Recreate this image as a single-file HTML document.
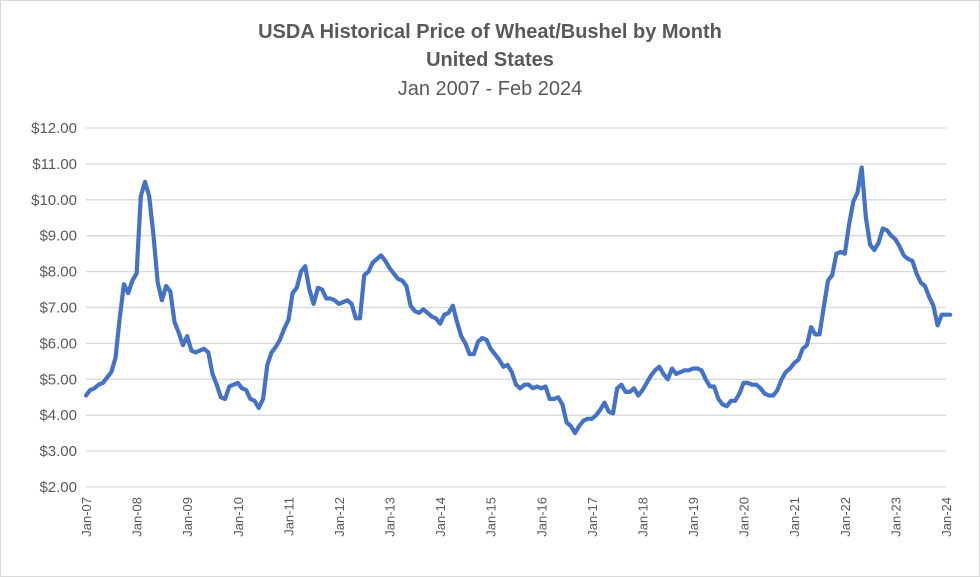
<!DOCTYPE html>
<html><head><meta charset="utf-8"><style>
body{margin:0;background:#fff;}
svg{display:block;font-family:"Liberation Sans",sans-serif;}
</style></head><body>
<svg id="chart" width="980" height="577">
<rect x="0.5" y="0.5" width="979" height="576" fill="#fff" stroke="#d9d9d9"/>
<text x="490" y="38" text-anchor="middle" font-size="20" font-weight="bold" fill="#595959">USDA Historical Price of Wheat/Bushel by Month</text>
<text x="490" y="66" text-anchor="middle" font-size="20" font-weight="bold" fill="#595959">United States</text>
<text x="490" y="95" text-anchor="middle" font-size="20" fill="#595959">Jan 2007 - Feb 2024</text>
<g id="grid"></g><g id="yl"></g><g id="xl"></g><g id="ser"></g>
</svg>
<script>
const yTicks=[2,3,4,5,6,7,8,9,10,11,12];
const xTickLabels=["Jan-07","Jan-08","Jan-09","Jan-10","Jan-11","Jan-12","Jan-13","Jan-14","Jan-15","Jan-16","Jan-17","Jan-18","Jan-19","Jan-20","Jan-21","Jan-22","Jan-23","Jan-24"];
const prices=[
4.55,4.7,4.75,4.85,4.9,5.05,5.2,5.6,6.7,7.65,7.4,7.75,
7.95,10.1,10.5,10.1,9.0,7.7,7.2,7.6,7.45,6.6,6.3,5.95,
6.2,5.8,5.75,5.8,5.85,5.75,5.15,4.85,4.5,4.45,4.8,4.85,
4.9,4.75,4.7,4.45,4.4,4.2,4.45,5.4,5.75,5.9,6.1,6.4,
6.65,7.4,7.55,8.0,8.15,7.5,7.1,7.55,7.5,7.25,7.25,7.2,
7.1,7.15,7.2,7.1,6.7,6.7,7.9,8.0,8.25,8.35,8.45,8.3,
8.1,7.95,7.8,7.75,7.6,7.05,6.9,6.85,6.95,6.85,6.75,6.7,
6.55,6.8,6.85,7.05,6.6,6.2,6.0,5.7,5.7,6.05,6.15,6.1,
5.85,5.7,5.55,5.35,5.4,5.2,4.85,4.75,4.85,4.85,4.75,4.8,
4.75,4.8,4.45,4.45,4.5,4.3,3.8,3.7,3.5,3.7,3.85,3.9,
3.9,4.0,4.15,4.35,4.1,4.05,4.75,4.85,4.65,4.65,4.75,4.55,
4.7,4.9,5.1,5.25,5.35,5.15,5.0,5.3,5.15,5.2,5.25,5.25,
5.3,5.3,5.25,5.0,4.8,4.8,4.45,4.3,4.25,4.4,4.4,4.6,
4.9,4.9,4.85,4.85,4.75,4.6,4.55,4.55,4.7,5.0,5.2,5.3,
5.45,5.55,5.85,5.95,6.45,6.25,6.25,7.0,7.75,7.9,8.5,8.55,
8.5,9.3,9.95,10.2,10.9,9.5,8.75,8.6,8.8,9.2,9.15,9.0,
8.9,8.7,8.45,8.35,8.3,7.95,7.7,7.6,7.3,7.05,6.5,6.8,
6.8,6.8];
const ns="http://www.w3.org/2000/svg";
const X0=86,X1=946,Y0=487,Y1=128;
const xs=i=>X0+(X1-X0)*i/204;
const ys=v=>Y0-(Y0-Y1)*(v-2)/10;
const g=document.getElementById('grid'),yl=document.getElementById('yl'),xl=document.getElementById('xl'),ser=document.getElementById('ser');
yTicks.forEach(t=>{
 const l=document.createElementNS(ns,'line');
 
 
 l.setAttribute('x1',X0);l.setAttribute('x2',X1);l.setAttribute('y1',ys(t));l.setAttribute('y2',ys(t));
 l.setAttribute('stroke','#d9d9d9');l.setAttribute('stroke-width','1.3');g.appendChild(l);
 const tx=document.createElementNS(ns,'text');
 
 
 tx.setAttribute('x',77);tx.setAttribute('y',ys(t)+5);tx.setAttribute('text-anchor','end');
 tx.setAttribute('font-size','15');tx.setAttribute('fill','#595959');tx.textContent='$'+t.toFixed(2);yl.appendChild(tx);
});
xTickLabels.forEach((s,k)=>{
 const x=xs(k*12);
 const tx=document.createElementNS(ns,'text');
 
 
 tx.setAttribute('transform','translate('+(x+5)+',497) rotate(-90)');
 tx.setAttribute('text-anchor','end');tx.setAttribute('font-size','13');tx.setAttribute('fill','#595959');
 tx.textContent=s;xl.appendChild(tx);
});
const p=document.createElementNS(ns,'polyline');


p.setAttribute('points',prices.map((v,i)=>xs(i).toFixed(1)+','+ys(v).toFixed(1)).join(' '));
p.setAttribute('fill','none');p.setAttribute('stroke','#4472c4');p.setAttribute('stroke-width','4.2');
p.setAttribute('stroke-linejoin','round');p.setAttribute('stroke-linecap','round');
ser.appendChild(p);
</script>
</body></html>
